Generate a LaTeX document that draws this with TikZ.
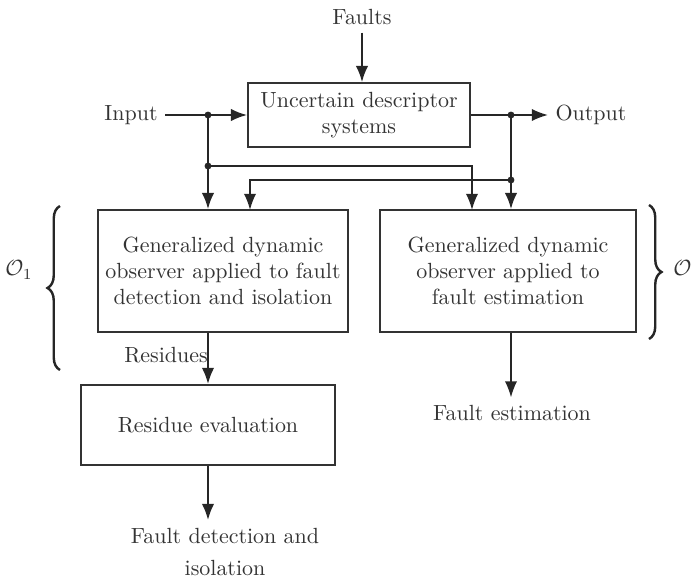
\documentclass[tikz,border=0pt]{standalone}
\usetikzlibrary{arrows.meta,decorations.pathreplacing}
\tikzset{
  blockbox/.style={draw=black!80, line width=0.9pt, align=center, text=black!80},
  lbl/.style={text=black!80, align=center},
  arr/.style={draw=black!85, line width=0.9pt, -{Latex[length=2.6mm,width=2mm]}},
  jdot/.style={fill=black!85},
  brc/.style={draw=black!85, line width=1.1pt, decorate, decoration={brace, amplitude=0.2cm}}
}
\begin{document}
\begin{tikzpicture}[x=0.016cm, y=-0.016cm]
  \useasboundingbox (0,0) rectangle (691,579);
  % system block
  \node[lbl] (faults) at (362,17) {Faults};
  \node[blockbox, minimum width=3.55cm, minimum height=1.02cm] (sys) at (359,115)
    {Uncertain descriptor\\ systems};
  \node[lbl] (input) at (131,115) {Input};
  \node[lbl] (output) at (591,115) {Output};
  % observers
  \node[blockbox, minimum width=3.95cm, minimum height=1.95cm] (obsA) at (223,271)
    {Generalized dynamic\\ observer applied to fault\\ detection and isolation};
  \node[blockbox, minimum width=4.1cm, minimum height=1.95cm] (obsB) at (508,271)
    {Generalized dynamic\\ observer applied to\\ fault estimation};
  \node[blockbox, minimum width=4.05cm, minimum height=1.28cm] (reval) at (208,425)
    {Residue evaluation};
  \node[lbl] (res) at (166,355) {Residues};
  \node[lbl] (fdi) at (225,552) {Fault detection and\\[3pt] isolation};
  \node[lbl] (fest) at (512,413) {Fault estimation};
  % junctions
  \coordinate (j1) at (208,115);
  \coordinate (j2) at (208,166);
  \coordinate (j3) at (511,115);
  \coordinate (j4) at (511,180);
  \coordinate (inA) at (250,210);
  \coordinate (inB) at (472,210);
  \coordinate (outE) at (548,115);
  % connectors
  \draw[arr] (faults.south) -- (faults.south |- sys.north);
  \draw[arr] (input.east) -- (sys.west);
  \draw[arr] (sys.east) -- (outE);
  \draw[arr] (j1) -- (j1 |- obsA.north);
  \draw[arr] (j3) -- (j3 |- obsB.north);
  \draw[arr] (j2) -| (inB);
  \draw[arr] (j4) -| (inA);
  \draw[arr] (j1 |- obsA.south) -- (j1 |- reval.north);
  \draw[arr] (reval.south) -- (reval.south |- fdi.north);
  \draw[arr] (j3 |- obsB.south) -- (j3 |- fest.north);
  \foreach \j in {j1,j2,j3,j4}
    \fill[jdot] (\j) circle (0.055cm);
  % braces
  \draw[brc] (60,370) -- (60,206);
  \draw[brc] (649,205) -- (649,339);
  \node[lbl] (o1) at (19,270) {$\mathcal{O}_1$};
  \node[lbl] (o2) at (687,270) {$\mathcal{O}_2$};
\end{tikzpicture}
\end{document}
